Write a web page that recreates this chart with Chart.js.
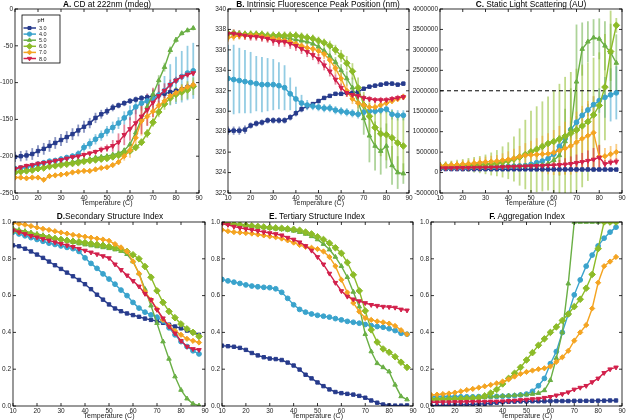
<!DOCTYPE html>
<html>
<head>
<meta charset="utf-8">
<script src="https://cdn.jsdelivr.net/npm/chart.js@4.4.1/dist/chart.umd.min.js"></script>
<style>
  body { margin: 0; background: #fff; width: 627px; height: 420px; position: relative; overflow: hidden; font-family: "Liberation Sans", sans-serif; }
  canvas { position: absolute; z-index: 1; }
  .ttl { position: absolute; z-index: 2; font-size: 8.3px; white-space: nowrap; color: #000;
         transform: translate(-50%, -50%) translateZ(0); opacity: 0.999; -webkit-font-smoothing: antialiased; }
</style>
</head>
<body>
<div class="ttl" style="left:107px;top:4px"><b>A.</b> CD at 222nm (mdeg)</div>
<div class="ttl" style="left:318px;top:4px"><b>B.</b> Intrinsic Fluorescence Peak Position (nm)</div>
<div class="ttl" style="left:531px;top:4px"><b>C.</b> Static Light Scattering (AU)</div>
<div class="ttl" style="left:110px;top:216px"><b>D.</b>Secondary Structure Index</div>
<div class="ttl" style="left:317px;top:216px"><b>E.</b> Tertiary Structure Index</div>
<div class="ttl" style="left:527px;top:216px"><b>F.</b> Aggregation Index</div>

<canvas id="cA" width="205" height="212" style="left:0;top:0"></canvas>
<canvas id="cB" width="208" height="212" style="left:208px;top:0"></canvas>
<canvas id="cC" width="215" height="212" style="left:412px;top:0"></canvas>
<canvas id="cD" width="210" height="208" style="left:0;top:212px"></canvas>
<canvas id="cE" width="210" height="208" style="left:208px;top:212px"></canvas>
<canvas id="cF" width="211" height="208" style="left:416px;top:212px"></canvas>

<script>
// temperatures (C) and pH series labels
const temps = [10, 12.5, 15, 17.5, 20, 22.5, 25, 27.5, 30, 32.5, 35, 37.5, 40, 42.5, 45, 47.5,
               50, 52.5, 55, 57.5, 60, 62.5, 65, 67.5, 70, 72.5, 75, 77.5, 80, 82.5, 85, 87.5];
const phLabels = ["3.0", "4.0", "5.0", "6.0", "7.0", "8.0"];

// A. CD at 222nm (mdeg)
const cd3 = [-201,-200,-199,-197,-193,-190,-186,-182,-178,-174,-170,-165,-160,-155,-148,-143,-139,-134,-131,-128,-125,-123,-121,-120,-118,-117,-115,-113,-111,-109,-106,-104];
const cd4 = [-217,-216,-215,-213,-211,-209,-207,-206,-204,-202,-200,-197,-188,-183,-177,-172,-166,-161,-155,-148,-141,-133,-128,-125,-122,-117,-111,-103,-97,-92,-87,-84];
const cd5 = [-221,-220,-219,-218,-216,-215,-213,-212,-210,-209,-208,-206,-205,-204,-202,-201,-200,-198,-196,-192,-184,-168,-150,-133,-116,-97,-79,-56,-42,-33,-29,-26];
const cd6 = [-222,-221,-220,-219,-217,-216,-214,-213,-212,-211,-210,-209,-207,-206,-205,-204,-203,-201,-199,-196,-193,-188,-181,-169,-154,-140,-129,-121,-116,-113,-110,-105];
const cd7 = [-229,-229,-230,-229,-229,-232,-227,-226,-225,-224,-222,-221,-220,-220,-218,-216,-215,-212,-208,-200,-192,-175,-152,-146,-139,-131,-125,-118,-114,-109,-106,-103];
const cd8 = [-217,-215,-213,-212,-210,-209,-208,-206,-205,-203,-201,-200,-198,-196,-194,-191,-189,-186,-181,-171,-163,-155,-146,-137,-127,-118,-111,-103,-97,-92,-89,-87];
const cdErr3 = [7,7,7,8,8,8,8,8,8,8,8,8,8,7,7,6,5,5,4,4,4,4,4,4,5,5,5,4,4,4,4,4];
const cdErr4 = [4,4,4,4,4,4,4,4,4,4,4,5,6,7,7,7,7,8,8,9,10,10,10,10,12,15,20,28,32,35,37,38];
const cdErr5 = [3,3,3,3,3,3,3,3,3,3,3,3,3,3,3,3,3,3,3,3,4,5,6,7,7,7,6,5,4,3,3,3];
const cdErr6 = [3,3,3,3,3,3,3,3,3,3,3,3,3,3,3,3,3,3,3,3,4,4,5,6,6,7,8,9,10,11,12,12];
const cdErr7 = [3,3,3,3,3,3,3,3,3,3,3,3,3,3,3,3,3,3,4,6,10,18,20,12,8,6,6,6,6,6,6,6];
const cdErr8 = [3,3,3,3,3,3,3,3,3,3,3,3,3,3,3,4,5,8,12,14,16,20,24,22,20,15,10,7,5,4,4,4];

// B. Intrinsic fluorescence peak position (nm)
const fl3 = [328.1,328.1,328.1,328.2,328.6,328.8,328.9,329.1,329.1,329.1,329.1,329.4,329.8,330.2,330.5,330.7,331.0,331.3,331.5,331.7,331.7,331.8,331.8,331.9,332.2,332.4,332.5,332.6,332.7,332.7,332.6,332.7];
const fl4 = [333.2,333.1,333.0,332.9,332.8,332.7,332.6,332.6,332.6,332.5,332.3,331.7,331.2,330.8,330.6,330.5,330.4,330.3,330.3,330.1,330.0,329.9,329.8,329.7,329.9,330.0,330.0,330.1,330.2,329.7,329.6,329.6];
const fl5 = [337.6,337.6,337.6,337.5,337.5,337.5,337.4,337.3,337.3,337.3,337.2,337.1,337.0,336.9,336.8,336.6,336.3,335.9,335.4,334.8,334.0,333.2,332.3,330.9,329.3,327.6,326.6,326.1,326.6,324.7,324.0,323.9];
const fl6 = [337.6,337.6,337.5,337.5,337.5,337.5,337.5,337.4,337.4,337.4,337.4,337.4,337.4,337.3,337.2,337.1,336.9,336.7,336.4,336.0,335.4,334.7,333.9,332.3,330.6,329.5,328.4,327.8,327.7,327.4,326.9,326.6];
const fl7 = [337.2,337.3,337.4,337.4,337.4,337.4,337.3,337.2,337.1,337.0,336.9,336.8,336.6,336.4,336.2,336.1,335.9,335.6,335.0,334.2,333.2,332.0,331.2,330.8,330.6,330.4,330.4,330.6,330.8,331.0,331.2,331.4];
const fl8 = [337.6,337.6,337.5,337.4,337.3,337.3,337.2,337.1,336.9,336.8,336.8,336.6,336.4,336.1,335.8,335.5,335.1,334.5,333.9,333.1,332.3,331.8,331.6,331.5,331.3,331.2,331.1,331.1,331.1,331.2,331.3,331.4];
const flErr3 = [0.4,0.4,0.4,0.4,0.3,0.3,0.3,0.3,0.3,0.3,0.3,0.3,0.3,0.3,0.3,0.2,0.2,0.2,0.2,0.2,0.2,0.2,0.2,0.2,0.2,0.2,0.2,0.2,0.2,0.2,0.2,0.2];
const flErr4 = [3.3,3.4,3.2,3.1,3.0,2.7,2.7,2.6,2.5,2.3,2.2,1.6,1.2,0.8,0.5,0.4,0.4,0.4,0.4,0.4,0.4,0.4,0.4,0.4,0.4,0.4,0.4,0.4,0.4,0.5,0.5,0.5];
const flErr5 = [0.3,0.3,0.3,0.3,0.3,0.3,0.3,0.3,0.3,0.3,0.3,0.3,0.3,0.3,0.3,0.3,0.4,0.4,0.5,0.5,0.6,0.7,1.0,1.3,1.6,2.6,2.4,2.3,2.2,1.9,1.6,1.0];
const flErr6 = [0.4,0.4,0.4,0.4,0.4,0.4,0.4,0.4,0.4,0.4,0.4,0.4,0.4,0.4,0.4,0.4,0.4,0.4,0.5,0.5,0.6,0.7,0.8,1.0,1.3,1.6,1.9,2.2,2.5,2.7,2.8,2.8];
const flErr7 = [0.4,0.4,0.4,0.4,0.4,0.4,0.4,0.4,0.4,0.4,0.4,0.4,0.4,0.5,0.5,0.5,0.5,0.5,0.6,0.6,0.6,0.6,0.5,0.5,0.4,0.4,0.4,0.4,0.3,0.3,0.3,0.3];
const flErr8 = [0.4,0.4,0.4,0.4,0.4,0.4,0.4,0.4,0.5,0.5,0.5,0.5,0.5,0.5,0.5,0.5,0.5,0.5,0.5,0.5,0.4,0.4,0.4,0.3,0.3,0.3,0.3,0.3,0.3,0.3,0.3,0.3];

// C. Static light scattering (AU)
const sls3 = [85000,85000,84000,84000,83000,83000,82000,82000,82000,81000,81000,80000,80000,80000,79000,79000,78000,78000,78000,77000,77000,76000,76000,76000,75000,75000,75000,74000,74000,74000,73000,73000];
const sls4 = [120000,120000,120000,120000,125000,125000,130000,130000,135000,135000,140000,145000,150000,155000,160000,170000,200000,240000,280000,340000,450000,640000,830000,1050000,1230000,1400000,1530000,1660000,1760000,1840000,1900000,1950000];
const sls5 = [120000,120000,125000,125000,130000,130000,135000,135000,140000,140000,145000,150000,150000,155000,160000,165000,170000,175000,180000,220000,300000,420000,760000,1060000,2220000,3020000,3200000,3300000,3270000,3100000,2940000,2680000];
const sls6 = [160000,165000,170000,175000,180000,185000,190000,195000,200000,210000,230000,260000,290000,330000,380000,440000,510000,570000,640000,710000,760000,820000,890000,960000,1040000,1140000,1245000,1410000,1640000,2090000,2960000,3600000];
const sls7 = [170000,175000,185000,195000,205000,215000,230000,245000,260000,270000,280000,300000,320000,350000,390000,420000,430000,440000,450000,460000,490000,540000,590000,650000,740000,830000,900000,975000,385000,400000,450000,500000];
const sls8 = [110000,110000,112000,114000,116000,118000,120000,122000,125000,128000,130000,135000,140000,145000,150000,155000,160000,165000,170000,175000,180000,190000,200000,215000,240000,260000,290000,320000,370000,210000,250000,270000];
const slsErr3 = [20000,20000,20000,20000,20000,20000,20000,20000,20000,20000,20000,20000,20000,20000,20000,20000,20000,20000,20000,20000,20000,20000,20000,20000,20000,20000,20000,20000,20000,20000,20000,20000];
const slsErr4 = [30000,30000,30000,30000,30000,30000,30000,30000,30000,30000,30000,30000,30000,30000,30000,30000,40000,50000,60000,80000,100000,150000,200000,200000,150000,150000,150000,200000,300000,500000,650000,650000];
const slsErr5 = [50000,50000,50000,50000,50000,50000,50000,50000,50000,50000,50000,50000,50000,50000,60000,60000,70000,80000,90000,120000,200000,500000,800000,1000000,1400000,650000,500000,450000,500000,600000,700000,700000];
const slsErr6 = [100000,110000,120000,140000,150000,170000,190000,210000,240000,280000,320000,380000,450000,550000,700000,850000,1000000,1050000,1100000,1150000,1250000,1350000,1450000,1500000,1500000,1500000,1450000,1400000,1300000,1300000,1000000,180000];
const slsErr7 = [80000,80000,90000,90000,100000,100000,110000,120000,130000,140000,150000,170000,200000,230000,260000,300000,350000,400000,450000,500000,550000,600000,650000,700000,750000,800000,850000,900000,300000,200000,200000,200000];
const slsErr8 = [30000,30000,30000,30000,30000,30000,30000,30000,30000,30000,30000,30000,30000,30000,40000,40000,50000,60000,70000,80000,100000,120000,150000,180000,200000,220000,250000,280000,300000,100000,80000,80000];
const slsThreshold = 2000000;

// D. Secondary structure index
const ssi3 = [0.873,0.868,0.855,0.840,0.823,0.805,0.785,0.765,0.745,0.725,0.705,0.685,0.662,0.635,0.605,0.578,0.552,0.530,0.515,0.503,0.494,0.485,0.475,0.468,0.462,0.452,0.442,0.432,0.422,0.410,0.400,0.387];
const ssi4 = [0.945,0.935,0.925,0.915,0.905,0.895,0.885,0.878,0.870,0.862,0.855,0.840,0.805,0.775,0.748,0.718,0.690,0.662,0.630,0.600,0.563,0.532,0.510,0.495,0.483,0.462,0.425,0.387,0.350,0.323,0.300,0.283];
const ssi5 = [0.965,0.957,0.950,0.942,0.935,0.928,0.920,0.912,0.905,0.897,0.890,0.883,0.877,0.872,0.867,0.862,0.857,0.850,0.842,0.825,0.785,0.720,0.635,0.545,0.450,0.350,0.256,0.160,0.087,0.040,0.012,0.002];
const ssi6 = [0.955,0.948,0.942,0.935,0.928,0.922,0.915,0.910,0.905,0.900,0.895,0.892,0.888,0.883,0.878,0.873,0.867,0.860,0.852,0.840,0.822,0.800,0.758,0.700,0.626,0.563,0.514,0.480,0.446,0.419,0.400,0.378];
const ssi7 = [0.995,0.990,0.985,0.978,0.970,0.963,0.957,0.950,0.943,0.937,0.930,0.925,0.920,0.915,0.910,0.905,0.898,0.880,0.862,0.840,0.786,0.720,0.620,0.577,0.526,0.468,0.437,0.408,0.387,0.365,0.354,0.345];
const ssi8 = [0.955,0.945,0.935,0.925,0.917,0.908,0.900,0.890,0.882,0.873,0.865,0.855,0.845,0.835,0.825,0.815,0.804,0.770,0.740,0.710,0.680,0.650,0.610,0.577,0.523,0.477,0.432,0.395,0.354,0.323,0.310,0.305];

// E. Tertiary structure index
const tsi3 = [0.328,0.325,0.322,0.316,0.305,0.288,0.275,0.265,0.258,0.255,0.250,0.236,0.220,0.198,0.170,0.150,0.128,0.108,0.090,0.076,0.070,0.066,0.062,0.055,0.045,0.030,0.018,0.008,0.003,0.002,0.002,0.003];
const tsi4 = [0.688,0.680,0.673,0.666,0.658,0.652,0.648,0.645,0.643,0.637,0.618,0.585,0.550,0.525,0.510,0.500,0.493,0.488,0.483,0.475,0.468,0.460,0.455,0.450,0.443,0.437,0.432,0.428,0.420,0.410,0.395,0.390];
const tsi5 = [0.995,0.990,0.987,0.984,0.980,0.977,0.973,0.970,0.967,0.963,0.960,0.957,0.952,0.945,0.935,0.922,0.905,0.880,0.850,0.810,0.760,0.700,0.620,0.540,0.390,0.296,0.232,0.210,0.187,0.115,0.052,0.035];
const tsi6 = [0.995,0.992,0.988,0.985,0.982,0.979,0.976,0.973,0.970,0.968,0.966,0.963,0.960,0.955,0.945,0.935,0.920,0.905,0.885,0.860,0.830,0.780,0.713,0.626,0.517,0.414,0.347,0.310,0.292,0.268,0.238,0.210];
const tsi7 = [0.958,0.950,0.945,0.943,0.940,0.937,0.932,0.927,0.922,0.917,0.910,0.900,0.888,0.875,0.865,0.860,0.853,0.840,0.810,0.760,0.686,0.617,0.560,0.513,0.478,0.468,0.460,0.455,0.448,0.435,0.412,0.390];
const tsi8 = [0.990,0.985,0.975,0.968,0.962,0.957,0.952,0.945,0.940,0.935,0.928,0.915,0.905,0.890,0.870,0.845,0.810,0.770,0.720,0.670,0.625,0.595,0.580,0.570,0.560,0.550,0.545,0.540,0.538,0.535,0.525,0.520];

// F. Aggregation index
const agg3 = [0.002,0.002,0.003,0.004,0.005,0.006,0.007,0.008,0.010,0.012,0.015,0.018,0.021,0.023,0.024,0.025,0.025,0.026,0.026,0.026,0.027,0.027,0.027,0.027,0.028,0.028,0.028,0.028,0.029,0.029,0.030,0.030];
const agg4 = [0.050,0.050,0.050,0.050,0.050,0.050,0.050,0.050,0.051,0.051,0.052,0.052,0.053,0.054,0.056,0.060,0.065,0.080,0.110,0.150,0.230,0.296,0.400,0.500,0.604,0.685,0.760,0.820,0.870,0.912,0.945,0.972];
const agg5 = [0.040,0.040,0.040,0.040,0.040,0.041,0.042,0.043,0.045,0.047,0.050,0.052,0.054,0.056,0.058,0.060,0.062,0.065,0.070,0.085,0.140,0.260,0.400,0.665,1.0,1.0,1.0,1.0,1.0,1.0,1.0,1.0];
const agg6 = [0.035,0.036,0.037,0.038,0.039,0.040,0.041,0.043,0.045,0.055,0.070,0.090,0.120,0.150,0.178,0.210,0.250,0.290,0.330,0.365,0.400,0.430,0.465,0.500,0.540,0.580,0.640,0.715,0.855,1.0,1.0,1.0];
const agg7 = [0.060,0.062,0.065,0.068,0.073,0.080,0.087,0.093,0.100,0.107,0.115,0.123,0.133,0.145,0.160,0.175,0.185,0.193,0.200,0.205,0.215,0.240,0.265,0.300,0.355,0.400,0.440,0.530,0.670,0.760,0.785,0.810];
const agg8 = [0.020,0.020,0.021,0.021,0.022,0.022,0.023,0.023,0.024,0.024,0.025,0.025,0.026,0.028,0.030,0.033,0.035,0.038,0.040,0.045,0.050,0.058,0.065,0.075,0.090,0.100,0.110,0.130,0.150,0.180,0.200,0.210];

// styling per pH
const colors = ["#273b8c", "#3aa3cc", "#6aaf45", "#8cbb28", "#f4a421", "#d2204b"];
const markers = [
  { style: "rect", r: 2.4, rot: 0 },
  { style: "circle", r: 2.4, rot: 0 },
  { style: "triangle", r: 2.6, rot: 0 },
  { style: "rectRot", r: 3.3, rot: 0 },
  { style: "rectRot", r: 2.6, rot: 0 },
  { style: "triangle", r: 2.6, rot: 180 }
];

Chart.defaults.font.family = '"Liberation Sans", sans-serif';
Chart.defaults.color = "#222";

function withAlpha(hex, a) {
  const n = parseInt(hex.slice(1), 16);
  return `rgba(${(n >> 16) & 255},${(n >> 8) & 255},${n & 255},${a})`;
}

// vertical error bars, drawn through the chart's scales
const errorBars = {
  id: "errorBars",
  beforeDatasetsDraw(chart) {
    const { ctx, chartArea: a, scales: { x, y } } = chart;
    ctx.save();
    ctx.beginPath();
    ctx.rect(a.left, a.top, a.width, a.height);
    ctx.clip();
    ctx.lineWidth = 1.8;
    chart.data.datasets.forEach(ds => {
      if (!ds.errors) return;
      ctx.strokeStyle = withAlpha(ds.borderColor, 0.55);
      ds.data.forEach((pt, j) => {
        const e = ds.errors[j];
        const px = x.getPixelForValue(pt.x);
        ctx.beginPath();
        ctx.moveTo(px, y.getPixelForValue(pt.y - e));
        ctx.lineTo(px, y.getPixelForValue(pt.y + e));
        ctx.stroke();
      });
    });
    ctx.restore();
  }
};

// box around the plot with inward tick marks on all sides
const frame = {
  id: "frame",
  afterDraw(chart) {
    const { ctx, chartArea: a, scales: { x, y } } = chart;
    ctx.save();
    ctx.strokeStyle = "#000";
    ctx.lineWidth = 0.8;
    ctx.strokeRect(a.left, a.top, a.width, a.height);
    ctx.beginPath();
    x.ticks.forEach(t => {
      const px = x.getPixelForValue(t.value);
      ctx.moveTo(px, a.bottom); ctx.lineTo(px, a.bottom - 3);
      ctx.moveTo(px, a.top); ctx.lineTo(px, a.top + 3);
    });
    y.ticks.forEach(t => {
      const py = y.getPixelForValue(t.value);
      ctx.moveTo(a.left, py); ctx.lineTo(a.left + 3, py);
      ctx.moveTo(a.right, py); ctx.lineTo(a.right - 3, py);
    });
    ctx.stroke();
    ctx.restore();
  }
};

// pH legend inside panel A
const phLegend = {
  id: "phLegend",
  afterDraw(chart, args, opts) {
    if (!opts.show) return;
    const { ctx, chartArea: a } = chart;
    const x0 = a.left + 7, y0 = a.top + 6, w = 38, h = 48;
    ctx.save();
    ctx.fillStyle = "#fff";
    ctx.fillRect(x0, y0, w, h);
    ctx.strokeStyle = "#000";
    ctx.lineWidth = 0.8;
    ctx.strokeRect(x0, y0, w, h);
    ctx.fillStyle = "#000";
    ctx.font = '5.5px "Liberation Sans"';
    ctx.textAlign = "center";
    ctx.textBaseline = "middle";
    ctx.fillText("pH", x0 + w / 2, y0 + 5);
    chart.data.datasets.filter(ds => ds.errors !== undefined).forEach((ds, i) => {
      const yy = y0 + 13 + i * 6.1;
      ctx.strokeStyle = ds.borderColor;
      ctx.fillStyle = ds.borderColor;
      ctx.lineWidth = 1.5;
      ctx.beginPath();
      ctx.moveTo(x0 + 1.5, yy); ctx.lineTo(x0 + 14, yy);
      ctx.stroke();
      ctx.lineWidth = 1;
      Chart.helpers.drawPoint(ctx, { pointStyle: ds.pointStyle, radius: ds.pointRadius * 0.9, rotation: ds.pointRotation, borderWidth: 1 }, x0 + 7.5, yy);
      ctx.fillStyle = "#222";
      ctx.textAlign = "left";
      ctx.fillText(ds.label, x0 + 17, yy + 0.5);
    });
    ctx.restore();
  }
};

function makePanel(p, series, errors, yMin, yMax, yStep, fmt, extra) {
  const datasets = series.map((vals, i) => ({
    label: phLabels[i],
    data: vals.map((v, j) => ({ x: temps[j], y: v })),
    errors: errors ? errors[i] : null,
    borderColor: colors[i],
    backgroundColor: colors[i],
    pointBackgroundColor: colors[i],
    pointBorderColor: colors[i],
    pointStyle: markers[i].style,
    pointRadius: markers[i].r,
    pointRotation: markers[i].rot,
    pointBorderWidth: 1,
    borderWidth: 1.4,
    tension: 0,
    order: series.length - i
  }));
  (extra || []).forEach(d => datasets.push(d));
  new Chart(document.getElementById(p.id), {
    type: "line",
    data: { datasets },
    options: {
      responsive: false,
      animation: false,
      devicePixelRatio: 1,
      layout: { padding: { top: p.pt, right: p.pr, left: 0, bottom: 0 } },
      plugins: { legend: { display: false }, tooltip: { enabled: false }, phLegend: { show: !!p.legend } },
      scales: {
        x: {
          type: "linear", min: 10, max: 90,
          grid: { display: false, drawTicks: false },
          border: { display: false },
          ticks: { stepSize: 10, autoSkip: false, maxRotation: 0, padding: 1, font: { size: 6.5 } },
          title: { display: true, text: "Temperature (C)", font: { size: 7 }, padding: { top: 0, bottom: p.tb } },
          afterFit: s => { s.height = p.xh; s.paddingLeft = 0; s.paddingRight = 0; }
        },
        y: {
          min: yMin, max: yMax,
          grid: { display: false, drawTicks: false },
          border: { display: false },
          ticks: { stepSize: yStep, autoSkip: false, padding: 2, font: { size: 6.5 }, callback: fmt },
          afterFit: s => { s.width = p.yw; s.paddingTop = 0; s.paddingBottom = 0; }
        }
      }
    },
    plugins: [errorBars, frame, phLegend]
  });
}

const intFmt = v => String(v);
const decFmt = v => v.toFixed(1);

makePanel({ id: "cA", yw: 15, pt: 9, pr: 6, xh: 19, tb: 5, legend: true },
  [cd3, cd4, cd5, cd6, cd7, cd8], [cdErr3, cdErr4, cdErr5, cdErr6, cdErr7, cdErr8], -250, 0, 50, intFmt);
makePanel({ id: "cB", yw: 20, pt: 9, pr: 7, xh: 19, tb: 5 },
  [fl3, fl4, fl5, fl6, fl7, fl8], [flErr3, flErr4, flErr5, flErr6, flErr7, flErr8], 322, 340, 2, intFmt);
makePanel({ id: "cC", yw: 28, pt: 9, pr: 4, xh: 19, tb: 5 },
  [sls3, sls4, sls5, sls6, sls7, sls8], [slsErr3, slsErr4, slsErr5, slsErr6, slsErr7, slsErr8], -500000, 4000000, 500000, intFmt,
  [{ label: "threshold", data: [{ x: 10, y: slsThreshold }, { x: 90, y: slsThreshold }], borderColor: "#000",
     borderDash: [4, 3], borderWidth: 1, pointRadius: 0, order: 10 }]);
makePanel({ id: "cD", yw: 13, pt: 10, pr: 4, xh: 14, tb: 0 },
  [ssi3, ssi4, ssi5, ssi6, ssi7, ssi8], null, 0, 1, 0.2, decFmt);
makePanel({ id: "cE", yw: 14, pt: 10, pr: 5, xh: 14, tb: 0 },
  [tsi3, tsi4, tsi5, tsi6, tsi7, tsi8], null, 0, 1, 0.2, decFmt);
makePanel({ id: "cF", yw: 15, pt: 10, pr: 4, xh: 14, tb: 0 },
  [agg3, agg4, agg5, agg6, agg7, agg8], null, 0, 1, 0.2, decFmt);
</script>
</body>
</html>
